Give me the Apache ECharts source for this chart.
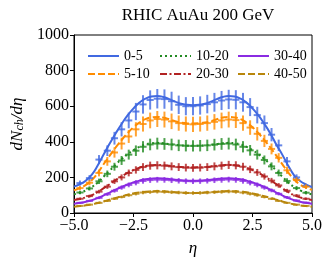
<!DOCTYPE html>
<html><head><meta charset="utf-8">
<script src="https://cdn.jsdelivr.net/npm/echarts@6/dist/echarts.min.js"></script>
<style>html,body{margin:0;padding:0;background:#fff}#c{width:333px;height:268px}</style>
</head><body><div id="c"></div>
<script>
const chartTitle = 'RHIC AuAu 200 GeV';
const centralities = ['0-5','5-10','10-20','20-30','30-40','40-50'];
const colors = ['#4169E1','#FF8C00','#228B22','#B22222','#8A2BE2','#B8860B'];
const xTicks = [-5, -2.5, 0, 2.5, 5];
const yTicks = [0, 200, 400, 600, 800, 1000];

// model curves
const etaCurve = [-5,-4.75,-4.5,-4.25,-4,-3.75,-3.5,-3.25,-3,-2.75,-2.5,-2.25,-2,-1.75,-1.5,-1.25,-1,-0.75,-0.5,-0.25,0,0.25,0.5,0.75,1,1.25,1.5,1.75,2,2.25,2.5,2.75,3,3.25,3.5,3.75,4,4.25,4.5,4.75,5];
const curve0_5 = [148,162,182,215,268,330,390,447,500,548,588,620,642,654,657,652,640,626,614,608,606,608,614,626,640,652,657,654,642,620,588,548,500,447,385,328,266,212,180,160,146];
const curve5_10 = [128,140,158,185,225,275,322,368,410,448,482,508,527,537,540,536,527,516,508,504,503,504,508,516,527,536,540,537,527,508,482,448,410,368,322,275,228,188,160,142,130];
const curve10_20 = [105,114,127,146,172,205,238,272,303,330,353,372,385,392,394,392,387,383,380,378,378,378,380,383,387,392,394,392,385,372,353,330,303,272,238,205,172,146,127,114,105];
const curve20_30 = [73,79,88,100,118,140,162,185,206,225,241,254,263,268,270,268,265,261,258,257,256,257,258,261,265,268,270,268,263,254,241,225,206,185,162,140,118,100,88,79,73];
const curve30_40 = [52,57,63,72,84,99,115,131,146,160,172,182,189,193,195,194,191,187,184,182,181,182,184,187,191,194,195,193,189,182,172,160,146,131,115,99,84,72,63,57,52];
const curve40_50 = [35,39,43,49,56,65,75,85,94,103,110,116,120,122,123,122,120,117,115,113,113,113,115,117,120,122,123,122,120,116,110,103,94,85,75,65,56,49,43,39,35];

// measured points
const etaData = [-4.75,-4.35,-3.95,-3.6,-3.3,-3.0,-2.7,-2.4,-2.1,-1.8,-1.5,-1.2,-0.9,-0.6,-0.3,0,0.3,0.6,0.9,1.2,1.5,1.8,2.1,2.4,2.7,3.0,3.3,3.6,3.95,4.35,4.75];
const data0_5 = [168,196,300,350,420,470,520,570,610,635,642,640,628,608,600,600,604,612,622,632,638,636,622,595,550,505,440,380,290,200,152];
const data5_10 = [140,170,225,290,340,390,430,470,500,520,528,525,515,505,500,498,500,505,512,520,525,522,505,480,445,405,360,310,240,185,148];
const data10_20 = [115,138,178,220,260,295,328,350,372,385,390,388,385,380,378,377,378,380,384,388,390,385,372,352,328,298,262,225,180,140,114];
const data20_30 = [80,95,120,148,178,200,225,242,258,266,268,266,262,258,255,254,255,258,262,266,270,268,260,245,228,205,182,155,125,98,80];
const data30_40 = [57,68,85,105,125,143,158,170,180,185,187,186,184,181,179,178,179,181,184,186,188,186,180,170,158,143,127,108,88,70,58];
const data40_50 = [40,47,57,68,80,90,100,108,115,118,120,119,117,115,113,112,113,115,117,119,121,119,115,108,100,90,80,68,57,47,40];
const relErr = 0.085;

const curves = [curve0_5, curve5_10, curve10_20, curve20_30, curve30_40, curve40_50];
const datas = [data0_5, data5_10, data10_20, data20_30, data30_40, data40_50];
const lineTypes = ['solid', [7,3], [2,3], [7,2.5,2,2.5], 'solid', [7,3]];

const FONT = '"Liberation Serif", "DejaVu Serif", serif';
const series = [];
centralities.forEach((name, i) => {
  series.push({
    name: name, type: 'line', smooth: true, symbol: 'none', z: 2,
    data: etaCurve.map((e, k) => [e, curves[i][k]]),
    lineStyle: {color: colors[i], width: 2, type: lineTypes[i]},
    itemStyle: {color: colors[i]}
  });
});
centralities.forEach((name, i) => {
  const col = colors[i];
  series.push({
    name: name + ' data', type: 'custom', z: 3, clip: true,
    data: etaData.map((e, k) => [e, datas[i][k], datas[i][k] * relErr]),
    renderItem: function (params, api) {
      const x = api.value(0), y = api.value(1), er = api.value(2);
      const t = api.coord([x, y + er]), b = api.coord([x, y - er]);
      const l = api.coord([x - 0.15, y]), r = api.coord([x + 0.15, y]);
      const st = {stroke: col, lineWidth: 2, opacity: 0.8};
      return {type: 'group', children: [
        {type: 'line', shape: {x1: t[0], y1: t[1], x2: b[0], y2: b[1]}, style: st},
        {type: 'line', shape: {x1: l[0], y1: l[1], x2: r[0], y2: r[1]}, style: st}
      ]};
    }
  });
});

function legendCol(names, left) {
  return {
    data: names, orient: 'vertical', left: left, top: 44, itemGap: 4,
    itemWidth: 31, itemHeight: 14,
    itemStyle: {opacity: 0},
    textStyle: {fontFamily: FONT, fontSize: 14, color: '#000'}
  };
}

const chart = echarts.init(document.getElementById('c'), null, {renderer: 'canvas'});
chart.setOption({
  animation: false,
  title: {text: chartTitle, left: 193, top: 2, textAlign: 'center',
    textStyle: {fontFamily: FONT, fontSize: 17, fontWeight: 'normal', color: '#000'}},
  legend: [
    legendCol([centralities[0], centralities[1]], 82),
    legendCol([centralities[2], centralities[3]], 154),
    legendCol([centralities[4], centralities[5]], 232)
  ],
  grid: {left: 74, right: 21, top: 35, bottom: 55, show: true, borderColor: '#000', borderWidth: 1},
  xAxis: {
    type: 'value', min: xTicks[0], max: xTicks[xTicks.length - 1], interval: 2.5,
    name: 'η', nameLocation: 'middle', nameGap: 27,
    nameTextStyle: {fontFamily: FONT, fontSize: 17, fontStyle: 'italic', color: '#000'},
    axisLine: {show: true, onZero: false, lineStyle: {color: '#000', width: 1}},
    axisTick: {show: true, inside: false, length: 4, lineStyle: {color: '#000'}},
    axisLabel: {fontFamily: FONT, fontSize: 16, color: '#000', margin: 5,
      formatter: v => (v < 0 ? '−' : '') + Math.abs(v).toFixed(1)},
    splitLine: {show: false}
  },
  yAxis: {
    type: 'value', min: yTicks[0], max: yTicks[yTicks.length - 1], interval: 200,
    name: '{i|dN}{s|ch}{i|/dη}', nameLocation: 'middle', nameGap: 44, nameRotate: 90,
    nameTextStyle: {rich: {
      i: {fontFamily: FONT, fontSize: 17, fontStyle: 'italic', color: '#000'},
      s: {fontFamily: FONT, fontSize: 12, fontStyle: 'italic', color: '#000', verticalAlign: 'bottom', padding: [6, 0, 0, 0]}
    }},
    axisLine: {show: true, onZero: false, lineStyle: {color: '#000', width: 1}},
    axisTick: {show: true, inside: false, length: 4, lineStyle: {color: '#000'}},
    axisLabel: {fontFamily: FONT, fontSize: 16, color: '#000', margin: 5, formatter: v => String(v)},
    splitLine: {show: false}
  },
  series: series
});
</script></body></html>
